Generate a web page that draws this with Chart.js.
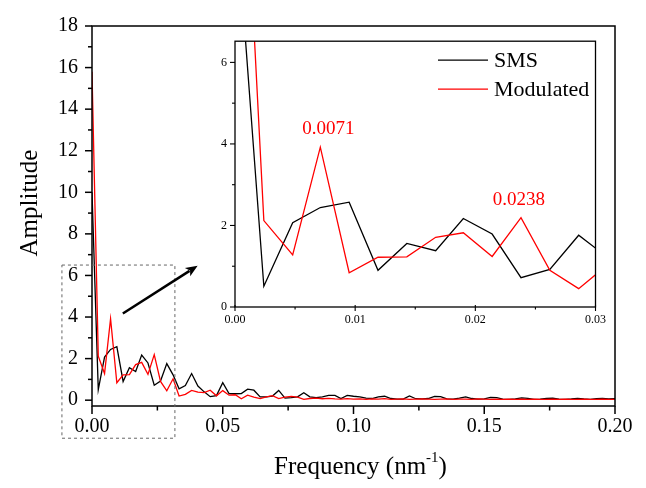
<!DOCTYPE html>
<html><head><meta charset="utf-8">
<script src="https://cdn.jsdelivr.net/npm/chart.js@4/dist/chart.umd.min.js"></script>
<style>
html,body{margin:0;padding:0;background:#fff;}
#wrap{position:relative;width:646px;height:488px;overflow:hidden;}
#main{position:absolute;left:0;top:0;}
#inset{position:absolute;left:200px;top:26px;}
</style></head><body>
<div id="wrap">
<canvas id="main" width="646" height="488"></canvas>
<canvas id="inset" width="412" height="310"></canvas>
</div>
<script>
// Frequency (nm^-1)
const frequency = [0.0000,0.0024,0.0048,0.0071,0.0095,0.0119,0.0143,0.0167,0.0190,0.0214,
0.0238,0.0262,0.0286,0.0310,0.0333,0.0357,0.0381,0.0405,0.0429,0.0452,
0.0476,0.0500,0.0524,0.0548,0.0571,0.0595,0.0619,0.0643,0.0667,0.0690,
0.0714,0.0738,0.0762,0.0786,0.0810,0.0833,0.0857,0.0881,0.0905,0.0929,
0.0952,0.0976,0.1000,0.1024,0.1048,0.1071,0.1095,0.1119,0.1143,0.1167,
0.1190,0.1214,0.1238,0.1262,0.1286,0.1310,0.1333,0.1357,0.1381,0.1405,
0.1429,0.1452,0.1476,0.1500,0.1524,0.1548,0.1571,0.1595,0.1619,0.1643,
0.1667,0.1690,0.1714,0.1738,0.1762,0.1786,0.1810,0.1833,0.1857,0.1881,
0.1905,0.1929,0.1952,0.1976,0.2000];
// SMS amplitude
const sms = [10.0,0.51,2.07,2.44,2.57,0.90,1.56,1.38,2.17,1.79,
0.72,0.92,1.76,1.22,0.55,0.70,1.28,0.68,0.40,0.17,
0.22,0.84,0.32,0.31,0.32,0.53,0.48,0.16,0.16,0.20,
0.47,0.10,0.12,0.16,0.36,0.16,0.12,0.16,0.23,0.23,
0.08,0.23,0.19,0.16,0.10,0.08,0.16,0.19,0.08,0.05,
0.05,0.20,0.07,0.06,0.08,0.18,0.17,0.06,0.05,0.10,
0.16,0.08,0.05,0.06,0.13,0.12,0.05,0.04,0.06,0.11,
0.09,0.04,0.05,0.09,0.10,0.05,0.04,0.06,0.09,0.06,
0.04,0.07,0.08,0.06,0.07];
// Modulated amplitude
const modulated = [15.8,2.12,1.28,3.92,0.84,1.22,1.23,1.71,1.82,1.24,
2.19,0.90,0.45,1.03,0.20,0.28,0.47,0.39,0.36,0.48,
0.21,0.46,0.24,0.26,0.07,0.24,0.15,0.08,0.16,0.22,
0.08,0.15,0.18,0.15,0.04,0.08,0.10,0.07,0.09,0.06,
0.05,0.07,0.05,0.06,0.04,0.06,0.05,0.07,0.04,0.05,
0.06,0.04,0.05,0.06,0.05,0.04,0.05,0.06,0.04,0.05,
0.05,0.04,0.06,0.05,0.04,0.05,0.04,0.05,0.04,0.05,
0.04,0.05,0.04,0.04,0.05,0.04,0.05,0.04,0.04,0.05,
0.04,0.04,0.05,0.04,0.04];

const mainXTicks = [0, 0.05, 0.10, 0.15, 0.20];
const mainXMinor = [0.025, 0.075, 0.125, 0.175];
const mainYTicks = [0, 2, 4, 6, 8, 10, 12, 14, 16, 18];
const mainYMinor = [1, 3, 5, 7, 9, 11, 13, 15, 17];
const insetXTicks = [0, 0.01, 0.02, 0.03];
const insetXMinor = [0.005, 0.015, 0.025];
const insetYTicks = [0, 2, 4, 6];
const insetYMinor = [1, 3, 5];
const peakIndex = [3, 10];           // annotated peaks of the modulated series
const peakText = ['0.0071', '0.0238'];
const xTitle = 'Frequency (nm';
const xTitleSup = '-1';
const yTitle = 'Amplitude';

const serif = "'Liberation Serif','Times New Roman',serif";
const toXY = ys => frequency.map((f, i) => ({x: f, y: ys[i]}));

function line(ctx, x1, y1, x2, y2) { ctx.beginPath(); ctx.moveTo(x1, y1); ctx.lineTo(x2, y2); ctx.stroke(); }

const mainDecor = {
  id: 'mainDecor',
  afterDraw(chart) {
    const {ctx, chartArea: a, scales: {x, y}} = chart;
    ctx.save();
    ctx.strokeStyle = '#000';
    ctx.lineWidth = 1.5;
    ctx.strokeRect(a.left, a.top, a.right - a.left, a.bottom - a.top);
    mainXTicks.forEach(v => { const p = x.getPixelForValue(v); line(ctx, p, a.bottom, p, a.bottom + 8); });
    mainXMinor.forEach(v => { const p = x.getPixelForValue(v); line(ctx, p, a.bottom, p, a.bottom + 4.5); });
    mainYTicks.forEach(v => { const p = y.getPixelForValue(v); line(ctx, a.left - 7, p, a.left, p); });
    mainYMinor.forEach(v => { const p = y.getPixelForValue(v); line(ctx, a.left - 4, p, a.left, p); });
    // axis titles
    ctx.fillStyle = '#000';
    ctx.textBaseline = 'middle';
    ctx.font = '25px ' + serif;
    const w1 = ctx.measureText(xTitle).width;
    ctx.font = '15px ' + serif;
    const w2 = ctx.measureText(xTitleSup).width;
    ctx.font = '25px ' + serif;
    const w3 = ctx.measureText(')').width;
    const total = w1 + w2 + w3;
    const cx = (a.left + a.right) / 2 + 7;
    let sx = cx - total / 2;
    const ty = 467;
    ctx.textAlign = 'left';
    ctx.fillText(xTitle, sx, ty);
    ctx.font = '15px ' + serif;
    ctx.fillText(xTitleSup, sx + w1, ty - 9);
    ctx.font = '25px ' + serif;
    ctx.fillText(')', sx + w1 + w2, ty);
    ctx.save();
    ctx.translate(30, 203);
    ctx.rotate(-Math.PI / 2);
    ctx.textAlign = 'center';
    ctx.fillText(yTitle, 0, 0);
    ctx.restore();
    // dashed zoom box
    ctx.strokeStyle = '#666';
    ctx.lineWidth = 1;
    ctx.setLineDash([3, 3]);
    const bx1 = x.getPixelForValue(-0.0115), bx2 = x.getPixelForValue(0.0317);
    const by1 = y.getPixelForValue(6.5), by2 = y.getPixelForValue(-1.83);
    ctx.strokeRect(bx1, by1, bx2 - bx1, by2 - by1);
    ctx.setLineDash([]);
    // arrow
    const tx = x.getPixelForValue(0.0118), tyy = y.getPixelForValue(4.17);
    const hx = x.getPixelForValue(0.0404), hy = y.getPixelForValue(6.47);
    const ang = Math.atan2(hy - tyy, hx - tx);
    ctx.strokeStyle = '#000'; ctx.fillStyle = '#000'; ctx.lineWidth = 2.5;
    const L = 12, W = 5;
    line(ctx, tx, tyy, hx - L * 0.8 * Math.cos(ang), hy - L * 0.8 * Math.sin(ang));
    ctx.beginPath();
    ctx.moveTo(hx, hy);
    ctx.lineTo(hx - L * Math.cos(ang) + W * Math.sin(ang), hy - L * Math.sin(ang) - W * Math.cos(ang));
    ctx.lineTo(hx - L * 0.75 * Math.cos(ang), hy - L * 0.75 * Math.sin(ang));
    ctx.lineTo(hx - L * Math.cos(ang) - W * Math.sin(ang), hy - L * Math.sin(ang) + W * Math.cos(ang));
    ctx.closePath(); ctx.fill();
    ctx.restore();
  }
};

const insetDecor = {
  id: 'insetDecor',
  afterDraw(chart) {
    const {ctx, chartArea: a, scales: {x, y}} = chart;
    ctx.save();
    ctx.strokeStyle = '#000';
    ctx.lineWidth = 1.3;
    ctx.strokeRect(a.left, a.top, a.right - a.left, a.bottom - a.top);
    ctx.lineWidth = 1.1;
    insetXTicks.forEach(v => { const p = x.getPixelForValue(v); line(ctx, p, a.bottom - 2, p, a.bottom + 4); });
    insetXMinor.forEach(v => { const p = x.getPixelForValue(v); line(ctx, p, a.bottom, p, a.bottom + 2.5); });
    insetYTicks.forEach(v => { const p = y.getPixelForValue(v); line(ctx, a.left - 5, p, a.left, p); });
    insetYMinor.forEach(v => { const p = y.getPixelForValue(v); line(ctx, a.left - 3, p, a.left, p); });
    // peak annotations
    ctx.fillStyle = '#ff0000';
    ctx.font = '19px ' + serif;
    ctx.textAlign = 'center';
    ctx.textBaseline = 'middle';
    const dx = [8, -2];
    peakIndex.forEach((idx, k) => {
      const px = x.getPixelForValue(frequency[idx]);
      const py = y.getPixelForValue(modulated[idx]);
      ctx.fillText(peakText[k], px + dx[k], py - 18);
    });
    // legend
    const ds = chart.data.datasets;
    ctx.font = '22px ' + serif;
    ctx.textAlign = 'left';
    ds.forEach((d, k) => {
      const ly = a.top + 19 + k * 29;
      ctx.strokeStyle = d.borderColor; ctx.lineWidth = 1.3;
      line(ctx, a.left + 203, ly, a.left + 253, ly);
      ctx.fillStyle = '#000';
      ctx.fillText(d.label, a.left + 259, ly + 1);
    });
    ctx.restore();
  }
};

function datasets() {
  return [
    {label: 'SMS', data: toXY(sms), borderColor: '#000000', borderWidth: 1.3, pointRadius: 0, tension: 0, order: 1, clip: 0},
    {label: 'Modulated', data: toXY(modulated), borderColor: '#ff0000', borderWidth: 1.3, pointRadius: 0, tension: 0, order: 0, clip: 0}
  ];
}

new Chart(document.getElementById('main'), {
  type: 'line',
  data: {datasets: datasets()},
  options: {
    responsive: false, animation: false, devicePixelRatio: 1,
    layout: {padding: {left: 0, right: 31, top: 16, bottom: 0}},
    plugins: {legend: {display: false}, tooltip: {enabled: false}},
    scales: {
      x: {type: 'linear', min: 0, max: 0.2,
        afterFit: s => { s.height = 82; },
        afterBuildTicks: s => { s.ticks = mainXTicks.map(v => ({value: v})); },
        grid: {display: false, drawTicks: false}, border: {display: false},
        ticks: {padding: 9, color: '#000', font: {family: serif, size: 20}, maxRotation: 0, autoSkip: false,
          callback: v => Number(v).toFixed(2)}
      },
      y: {type: 'linear', min: -0.28, max: 18,
        afterFit: s => { s.width = 92; },
        afterBuildTicks: s => { s.ticks = mainYTicks.map(v => ({value: v})); },
        grid: {display: false, drawTicks: false}, border: {display: false},
        ticks: {padding: 14, color: '#000', font: {family: serif, size: 20}, autoSkip: false}
      }
    }
  },
  plugins: [mainDecor]
});

new Chart(document.getElementById('inset'), {
  type: 'line',
  data: {datasets: datasets()},
  options: {
    responsive: false, animation: false, devicePixelRatio: 1,
    layout: {padding: {left: 0, right: 16, top: 8, bottom: 0}},
    plugins: {legend: {display: false}, tooltip: {enabled: false}},
    scales: {
      x: {type: 'linear', min: 0, max: 0.03,
        afterFit: s => { s.height = 29; },
        afterBuildTicks: s => { s.ticks = insetXTicks.map(v => ({value: v})); },
        grid: {display: false, drawTicks: false}, border: {display: false},
        ticks: {padding: 6, color: '#000', font: {family: serif, size: 12}, maxRotation: 0, autoSkip: false,
          callback: v => Number(v).toFixed(2)}
      },
      y: {type: 'linear', min: 0, max: 6.52,
        afterFit: s => { s.width = 35; },
        afterBuildTicks: s => { s.ticks = insetYTicks.map(v => ({value: v})); },
        grid: {display: false, drawTicks: false}, border: {display: false},
        ticks: {padding: 8, color: '#000', font: {family: serif, size: 12}, autoSkip: false}
      }
    }
  },
  plugins: [insetDecor]
});
</script>
</body></html>
